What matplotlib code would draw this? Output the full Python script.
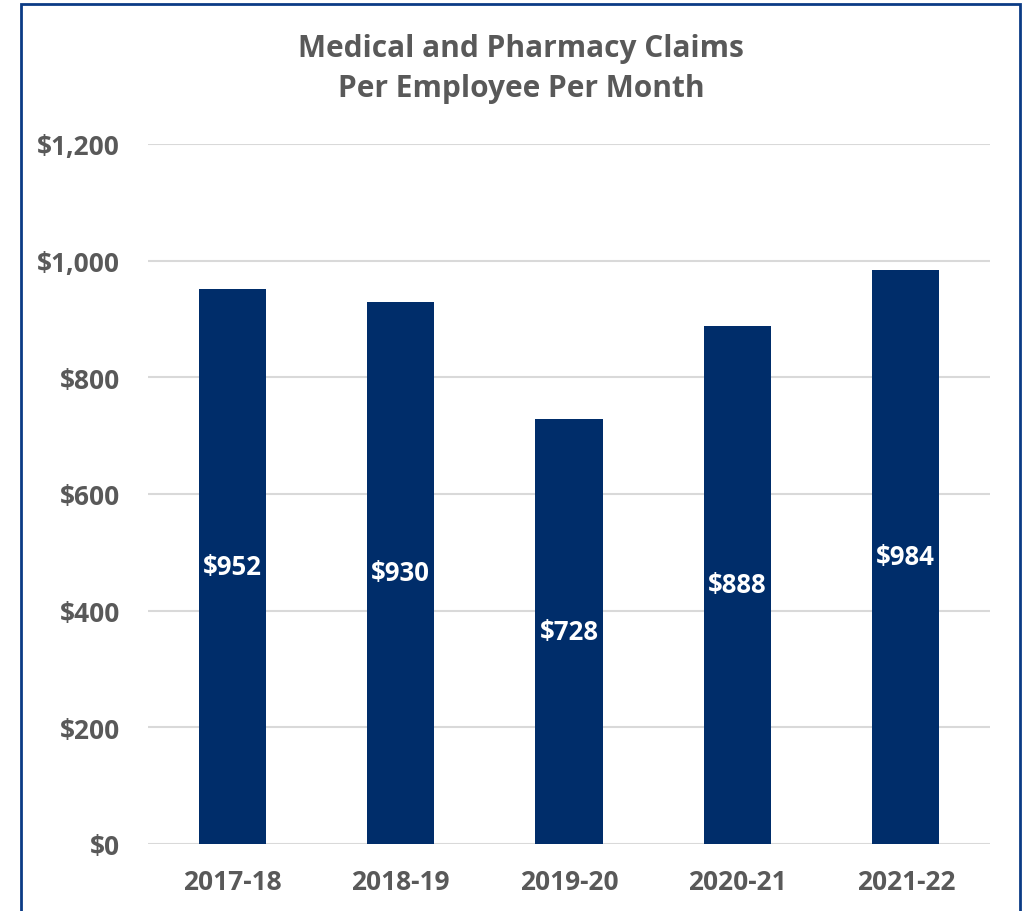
import matplotlib
matplotlib.use('Agg')
from matplotlib import pyplot as plt
from matplotlib.patches import Rectangle
from matplotlib.ticker import FuncFormatter

# chart data
years = ['2017-18', '2018-19', '2019-20', '2020-21', '2021-22']
claims = [952, 930, 728, 888, 984]
y_ticks = [0, 200, 400, 600, 800, 1000, 1200]

BAR_COLOR = '#002D6A'
TEXT_COLOR = '#595959'
GRID_COLOR = '#D9D9D9'
BORDER_COLOR = '#0B3B85'

plt.rcParams['font.family'] = ['Open Sans', 'DejaVu Sans']

fig = plt.figure(figsize=(10.28, 9.12), dpi=100)
ax = fig.add_axes([148 / 1028, 1 - 845 / 912, (990 - 148) / 1028, (845 - 145) / 912])

bars = ax.bar(range(len(years)), claims, width=0.4, color=BAR_COLOR, zorder=3)

# value labels sit in the middle of each bar
for i, v in enumerate(claims):
    ax.text(i, v / 2, '${:,.0f}'.format(v), ha='center', va='center',
            color='white', fontsize=18.5, fontweight='bold', zorder=4)

ax.set_xlim(-0.5, len(years) - 0.5)
ax.set_ylim(0, 1200)
ax.set_yticks(y_ticks)
ax.yaxis.set_major_formatter(FuncFormatter(lambda v, p: '${:,.0f}'.format(v)))
ax.set_xticks(range(len(years)))
ax.set_xticklabels(years)

ax.grid(axis='y', color=GRID_COLOR, linewidth=1.5, zorder=0)
ax.tick_params(axis='both', length=0, labelsize=19, labelcolor=TEXT_COLOR)
ax.tick_params(axis='y', pad=20)
ax.tick_params(axis='x', pad=17)
for lbl in ax.get_xticklabels() + ax.get_yticklabels():
    lbl.set_fontweight('bold')
for side in ['top', 'right', 'left', 'bottom']:
    ax.spines[side].set_visible(False)

fig.text(521 / 1028, 1 - 69 / 912, 'Medical and Pharmacy Claims\nPer Employee Per Month',
         ha='center', va='center', fontsize=21.5, fontweight='bold', color=TEXT_COLOR,
         linespacing=1.45)

# frame around the chart (open at the bottom like the screenshot)
border = Rectangle((21 / 1028, -0.05), (1020 - 21) / 1028, 1.05 - 5 / 912,
                   transform=fig.transFigure, fill=False, edgecolor=BORDER_COLOR,
                   linewidth=2, clip_on=False)
fig.patches.append(border)

plt.savefig('out.png', dpi=100)
